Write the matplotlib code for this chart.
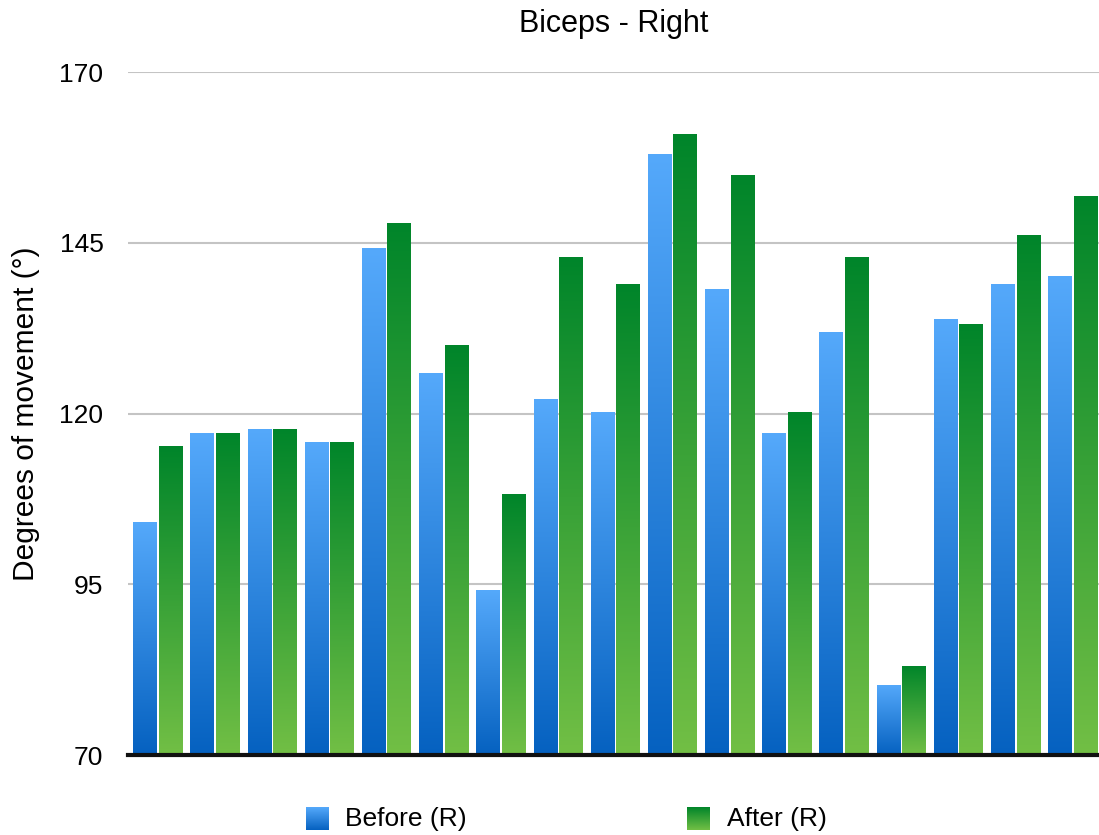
import numpy as np
import matplotlib
matplotlib.use("Agg")
import matplotlib.pyplot as plt
from matplotlib.colors import LinearSegmentedColormap

plt.rcParams['font.family'] = ['Liberation Sans', 'DejaVu Sans']

# range of movement per subject, right arm
subjects = list(range(1, 18))
before_r = [104.2, 117.1, 117.8, 115.9, 144.2, 126.0, 94.1, 122.2, 120.2,
            158.1, 138.2, 117.1, 132.0, 80.3, 133.9, 139.0, 140.2]
after_r = [115.2, 117.1, 117.8, 115.9, 148.0, 130.0, 108.2, 142.9, 139.0,
           160.9, 155.0, 120.2, 142.9, 83.1, 133.2, 146.1, 151.9]
y_ticks = [70, 95, 120, 145, 170]

# gradients run bottom -> top
blue_cmap = LinearSegmentedColormap.from_list('blue', ['#0561C0', '#55A9FB'])
green_cmap = LinearSegmentedColormap.from_list('green', ['#72BF45', '#00852A'])
grad = np.linspace(0, 1, 256).reshape(-1, 1)

fig = plt.figure(figsize=(10.99, 8.35), dpi=100)
ax = fig.add_axes([0.1169, 0.0958, 0.8831, 0.8176])

bar_w = 0.41
inner_gap = 0.035
x = np.arange(len(subjects))
off = (bar_w + inner_gap) / 2


def gradient_bars(xpos, values, cmap):
    bars = ax.bar(xpos, np.array(values) - y_ticks[0], bar_w, bottom=y_ticks[0],
                  color='none', edgecolor='none', zorder=2)
    for b in bars:
        x0, y0 = b.get_x(), b.get_y()
        im = ax.imshow(grad, cmap=cmap, origin='lower', aspect='auto',
                       extent=[x0, x0 + b.get_width(), y0, y0 + b.get_height()],
                       zorder=2, interpolation='bilinear')
        im.set_clip_path(b)
    return bars


gradient_bars(x - off, before_r, blue_cmap)
gradient_bars(x + off, after_r, green_cmap)

ax.set_xlim(-0.51, 16.46)
ax.set_ylim(70, 170)
ax.set_yticks(y_ticks)
ax.set_xticks([])
ax.yaxis.grid(True, color='#C4C4C4', linewidth=1.5, zorder=0)
ax.set_axisbelow(True)
for side in ['top', 'right', 'left']:
    ax.spines[side].set_visible(False)
ax.spines['bottom'].set_color('#111111')
ax.spines['bottom'].set_linewidth(3)
ax.spines['bottom'].set_zorder(5)
ax.tick_params(axis='y', length=0, pad=18, labelsize=19)

ax.set_ylabel('Degrees of movement (°)', fontsize=21.5, labelpad=14)
ax.set_title('Biceps - Right', fontsize=22, pad=29)

# legend with gradient swatches
for sx, cmap, label, tx in [(306, blue_cmap, 'Before (R)', 345),
                            (687, green_cmap, 'After (R)', 727)]:
    sw = fig.add_axes([sx / 1099, 1 - 830 / 835, 23 / 1099, 23 / 835])
    sw.imshow(grad, cmap=cmap, origin='lower', aspect='auto')
    sw.axis('off')
    fig.text(tx / 1099, 1 - 819 / 835, label, fontsize=19, va='center', ha='left')

fig.savefig('out.png', dpi=100)
